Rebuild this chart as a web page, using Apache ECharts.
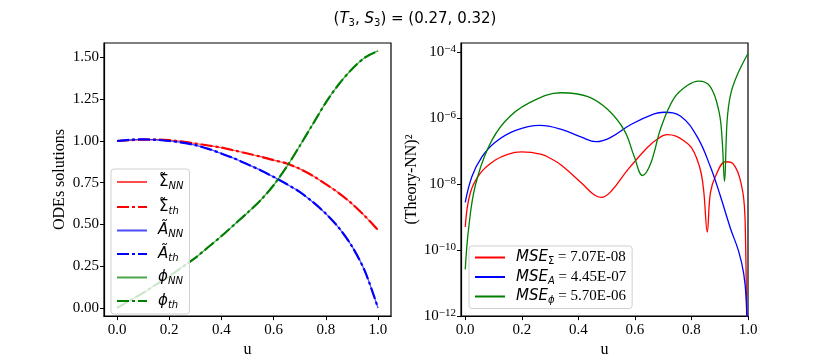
<!DOCTYPE html>
<html>
<head>
<meta charset="utf-8">
<script src="https://cdn.jsdelivr.net/npm/echarts@6/dist/echarts.min.js"></script>
<style>
html, body { margin: 0; padding: 0; background: #fff; }
#main { width: 830px; height: 363px; }
</style>
</head>
<body>
<div id="main"></div>
<script>
// left panel: ODE solutions vs u
var uLeft = [0, 0.05, 0.1, 0.15, 0.2, 0.25, 0.3, 0.35, 0.4, 0.45, 0.5,
             0.55, 0.6, 0.65, 0.7, 0.75, 0.8, 0.85, 0.9, 0.95, 1.0];
var sigmaVals = [1.0, 1.005, 1.008, 1.008, 1.005, 0.996, 0.985, 0.973, 0.96, 0.943, 0.925,
                 0.906, 0.885, 0.865, 0.833, 0.792, 0.742, 0.688, 0.625, 0.55, 0.467];
var aVals = [1.0, 1.007, 1.01, 1.007, 1.0, 0.99, 0.975, 0.953, 0.925, 0.895, 0.86,
             0.825, 0.785, 0.742, 0.695, 0.635, 0.565, 0.48, 0.37, 0.22, 0.0];
var phiVals = [0.0, 0.045, 0.09, 0.14, 0.19, 0.245, 0.30, 0.365, 0.43, 0.50, 0.57,
               0.645, 0.735, 0.845, 0.97, 1.10, 1.23, 1.34, 1.43, 1.50, 1.54];

// right panel: (Theory-NN)^2
var sigErrU = [0, 0.018, 0.053, 0.105, 0.15, 0.199, 0.27, 0.3, 0.34, 0.411, 0.457, 0.481, 0.516,
               0.575, 0.645, 0.68, 0.715, 0.745, 0.774, 0.8, 0.821, 0.835, 0.844, 0.856, 0.867,
               0.885, 0.92, 0.94, 0.955, 0.97, 0.985, 0.991, 0.996];
var sigErr = [5.0e-10, 5.4e-9, 2.1e-8, 5.2e-8, 7.9e-8, 9.3e-8, 7.9e-8, 6.0e-8, 3.7e-8, 1.07e-8, 4.6e-9, 3.9e-9, 6.0e-9,
              2.7e-8, 1.29e-7, 2.3e-7, 3.1e-7, 2.8e-7, 2.0e-7, 1.26e-7, 5.2e-8, 2.0e-8, 5.4e-9, 3.5e-10, 5.4e-9,
              1.7e-8, 4.7e-8, 4.5e-8, 3.3e-8, 1.6e-8, 3.5e-9, 2.8e-10, 1e-13];
var aErrU = [0, 0.024, 0.059, 0.105, 0.176, 0.264, 0.34, 0.411, 0.463, 0.516, 0.586, 0.668, 0.703,
             0.762, 0.821, 0.867, 0.902, 0.938, 0.967, 0.985, 0.994, 0.998];
var aErr = [2.75e-9, 1.7e-8, 6.6e-8, 1.8e-7, 4.1e-7, 5.9e-7, 4.5e-7, 2.6e-7, 1.9e-7, 2.6e-7, 6.3e-7, 1.32e-6, 1.48e-6,
            1.12e-6, 2.6e-7, 3.3e-8, 4.4e-9, 4.5e-10, 9.1e-11, 1.9e-11, 3.0e-12, 1e-13];
var phiErrU = [0, 0.012, 0.035, 0.082, 0.141, 0.223, 0.34, 0.434, 0.504, 0.563, 0.598, 0.627, 0.656,
               0.692, 0.738, 0.785, 0.826, 0.867, 0.897, 0.908, 0.917, 0.926, 0.938, 0.961, 1.0];
var phiErr = [2.6e-11, 4.5e-10, 8.5e-9, 1.29e-7, 7.9e-7, 2.75e-6, 5.75e-6, 4.4e-6, 1.78e-6, 4.1e-7, 6.6e-8, 1.8e-8, 4.2e-8,
              5.0e-7, 3.9e-6, 9.5e-6, 1.29e-5, 8.7e-6, 1.6e-6, 2.6e-7, 1.2e-8, 7.9e-7, 4.9e-6, 1.9e-5, 8.9e-5];

var mseLabels = ['7.07E-08', '4.45E-07', '5.70E-06'];
var leftXTicks = [0, 0.2, 0.4, 0.6, 0.8, 1.0];
var leftYTicks = [0, 0.25, 0.5, 0.75, 1.0, 1.25, 1.5];
var rightXTicks = [0, 0.2, 0.4, 0.6, 0.8, 1.0];
var rightYTicks = [-12, -10, -8, -6, -4];

var RED = '#ff0000', BLUE = '#0000ff', GREEN = '#008000';
var SERIF = 'Liberation Serif';
var SANS = 'DejaVu Sans';

function pairs(xs, ys) {
    return xs.map(function (x, i) { return [x, ys[i]]; });
}
function logPairs(xs, ys) {
    return xs.map(function (x, i) { return [x, Math.log10(ys[i])]; });
}

var dom = document.getElementById('main');
var myChart = echarts.init(dom, null, { renderer: 'canvas' });

function nnSeries(name, color, data) {
    return {
        name: name, type: 'line', xAxisIndex: 0, yAxisIndex: 0,
        data: data, showSymbol: false, symbol: 'none', smooth: 0.3,
        color: color,
        lineStyle: { color: color, width: 1.2, opacity: 0.7 }
    };
}
function thSeries(name, color, data) {
    return {
        name: name, type: 'line', xAxisIndex: 0, yAxisIndex: 0,
        data: data, showSymbol: false, symbol: 'none', smooth: 0.3,
        color: color,
        lineStyle: { color: color, width: 2.2, type: [12, 3, 3, 3] }
    };
}
function errSeries(name, color, data) {
    return {
        name: name, type: 'line', xAxisIndex: 1, yAxisIndex: 1,
        data: data, showSymbol: false, symbol: 'none', smooth: 0.4,
        clip: true, color: color,
        lineStyle: { color: color, width: 1.3 }
    };
}

// tilde over Sigma: zero-width raised token drawn over the next glyph
var legendNames = {
    'S_NN': '{t|\u02DC}{g|Σ}{s|NN}',
    'S_th': '{t|\u02DC}{g|Σ}{s|th}',
    'A_NN': '{gi|A\u0303}{s|NN}',
    'A_th': '{gi|A\u0303}{s|th}',
    'P_NN': '{gi|ϕ}{s|NN}',
    'P_th': '{gi|ϕ}{s|th}',
    'M_S': '{i|MSE}{su|Σ}{r| = ' + mseLabels[0] + '}',
    'M_A': '{i|MSE}{s|A}{r| = ' + mseLabels[1] + '}',
    'M_P': '{i|MSE}{s|ϕ}{r| = ' + mseLabels[2] + '}'
};

var legendRich = {
    t: { fontFamily: SANS, fontSize: 15, width: 0, lineHeight: 10, verticalAlign: 'top', padding: [0, 0, 0, 7], color: '#000' },
    g: { fontFamily: SANS, fontSize: 15, lineHeight: 18, padding: [0, 0, 0, 0], color: '#000' },
    gi: { fontFamily: SANS, fontStyle: 'italic', fontSize: 15, lineHeight: 18, padding: [0, 0, 0, 6], color: '#000' },
    i: { fontFamily: SANS, fontStyle: 'italic', fontSize: 15, lineHeight: 18, padding: [0, 0, 0, 6], color: '#000' },
    s: { fontFamily: SANS, fontStyle: 'italic', fontSize: 10, lineHeight: 8, verticalAlign: 'bottom', color: '#000' },
    su: { fontFamily: SANS, fontSize: 10, lineHeight: 8, verticalAlign: 'bottom', color: '#000' },
    r: { fontFamily: SERIF, fontSize: 15, lineHeight: 18, color: '#000' }
};

var tickLabel = { fontFamily: SERIF, fontSize: 15, color: '#000' };

option = {
    animation: false,
    title: {
        text: '({i|T}{s|3}, {i|S}{s|3}) = (0.27, 0.32)',
        left: 'center',
        top: 5,
        textStyle: {
            fontFamily: SANS, fontSize: 15, fontWeight: 'normal', color: '#000',
            rich: {
                i: { fontFamily: SANS, fontStyle: 'italic', fontSize: 15, lineHeight: 18 },
                s: { fontFamily: SANS, fontSize: 10, lineHeight: 8, verticalAlign: 'bottom' }
            }
        }
    },
    grid: [
        { left: 104, top: 43, width: 287, height: 279, show: true, borderColor: '#000', borderWidth: 1.2, backgroundColor: 'transparent' },
        { left: 461, top: 43, width: 287, height: 279, show: true, borderColor: '#000', borderWidth: 1.2, backgroundColor: 'transparent' }
    ],
    legend: [
        {
            data: ['S_NN', 'S_th', 'A_NN', 'A_th', 'P_NN', 'P_th'],
            orient: 'vertical', left: 111, top: 169,
            itemWidth: 30, itemHeight: 14, itemGap: 7,
            padding: [4, 6, 4, 5],
            itemStyle: { opacity: 0 },
            backgroundColor: 'rgba(255,255,255,0.8)',
            borderColor: '#d0d0d0', borderWidth: 1, borderRadius: 3,
            formatter: function (n) { return legendNames[n]; },
            textStyle: { rich: legendRich }
        },
        {
            data: ['M_S', 'M_A', 'M_P'],
            orient: 'vertical', left: 469, top: 246,
            itemWidth: 30, itemHeight: 14, itemGap: 3,
            padding: [4, 6, 3, 5],
            itemStyle: { opacity: 0 },
            backgroundColor: 'rgba(255,255,255,0.8)',
            borderColor: '#d0d0d0', borderWidth: 1, borderRadius: 3,
            formatter: function (n) { return legendNames[n]; },
            textStyle: { rich: legendRich }
        }
    ],
    xAxis: [
        {
            gridIndex: 0, type: 'value', min: -0.05, max: 1.05,
            name: 'u', nameLocation: 'middle', nameGap: 22,
            nameTextStyle: { fontFamily: SERIF, fontSize: 16, color: '#000' },
            axisLine: { show: true, onZero: false, lineStyle: { color: '#000', width: 1.2 } },
            axisTick: { show: true, length: 4, lineStyle: { color: '#000' }, customValues: leftXTicks },
            axisLabel: Object.assign({ margin: 6, customValues: leftXTicks,
                formatter: function (v) { return v.toFixed(1); } }, tickLabel),
            splitLine: { show: false }
        },
        {
            gridIndex: 1, type: 'value', min: -0.015, max: 1.0,
            name: 'u', nameLocation: 'middle', nameGap: 22,
            nameTextStyle: { fontFamily: SERIF, fontSize: 16, color: '#000' },
            axisLine: { show: true, onZero: false, lineStyle: { color: '#000', width: 1.2 } },
            axisTick: { show: true, length: 4, lineStyle: { color: '#000' }, customValues: rightXTicks },
            axisLabel: Object.assign({ margin: 6, customValues: rightXTicks,
                formatter: function (v) { return v.toFixed(1); } }, tickLabel),
            splitLine: { show: false }
        }
    ],
    yAxis: [
        {
            gridIndex: 0, type: 'value', min: -0.049, max: 1.587,
            name: 'ODEs solutions', nameLocation: 'middle', nameGap: 36,
            nameTextStyle: { fontFamily: SERIF, fontSize: 16, color: '#000' },
            axisLine: { show: true, onZero: false, lineStyle: { color: '#000', width: 1.2 } },
            axisTick: { show: true, length: 4, lineStyle: { color: '#000' }, customValues: leftYTicks },
            axisLabel: Object.assign({ margin: 5, customValues: leftYTicks,
                formatter: function (v) { return v.toFixed(2); } }, tickLabel),
            splitLine: { show: false }
        },
        {
            gridIndex: 1, type: 'value', min: -12, max: -3.734,
            name: '(Theory-NN)²', nameLocation: 'middle', nameGap: 40,
            nameTextStyle: { fontFamily: SERIF, fontSize: 16, color: '#000' },
            axisLine: { show: true, onZero: false, lineStyle: { color: '#000', width: 1.2 } },
            axisTick: { show: true, length: 4, lineStyle: { color: '#000' }, customValues: rightYTicks },
            axisLabel: {
                margin: 5, customValues: rightYTicks,
                formatter: function (v) { return '{b|10}{p|\u2212' + Math.round(-v) + '}'; },
                rich: {
                    b: { fontFamily: SERIF, fontSize: 15, lineHeight: 16, color: '#000' },
                    p: { fontFamily: SERIF, fontSize: 11, lineHeight: 8, verticalAlign: 'top', color: '#000' }
                }
            },
            splitLine: { show: false }
        }
    ],
    series: [
        nnSeries('S_NN', RED, pairs(uLeft, sigmaVals)),
        thSeries('S_th', RED, pairs(uLeft, sigmaVals)),
        nnSeries('A_NN', BLUE, pairs(uLeft, aVals)),
        thSeries('A_th', BLUE, pairs(uLeft, aVals)),
        nnSeries('P_NN', GREEN, pairs(uLeft, phiVals)),
        thSeries('P_th', GREEN, pairs(uLeft, phiVals)),
        errSeries('M_S', RED, logPairs(sigErrU, sigErr)),
        errSeries('M_A', BLUE, logPairs(aErrU, aErr)),
        errSeries('M_P', GREEN, logPairs(phiErrU, phiErr))
    ]
};

if (option && typeof option === 'object') {
    myChart.setOption(option);
}

window.addEventListener('resize', myChart.resize);
</script>
</body>
</html>
